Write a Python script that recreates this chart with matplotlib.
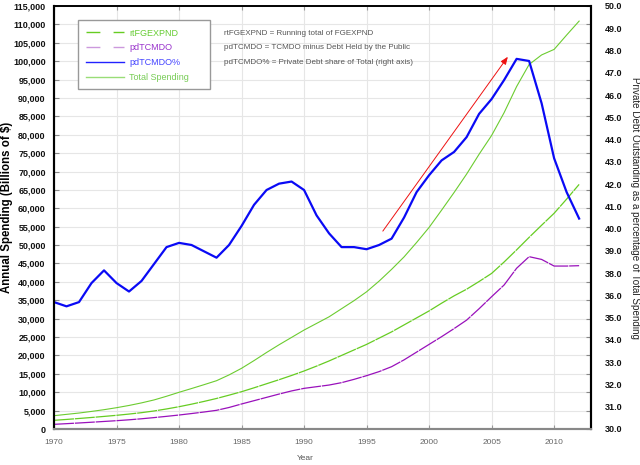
import matplotlib
matplotlib.use("Agg")
import matplotlib.pyplot as plt
from matplotlib.lines import Line2D
from matplotlib.patches import Rectangle
import numpy as np

plt.rcParams['font.family'] = ['Liberation Sans', 'DejaVu Sans']

years = list(range(1970, 2013))

total_spending = [3620, 3980, 4340, 4780, 5250, 5790, 6400, 7100, 7900, 8900,
                  9980, 11000, 12050, 13130, 14700, 16500, 18600, 20800, 22900, 24900,
                  26900, 28700, 30500, 32700, 34900, 37300, 40200, 43400, 46800, 50700,
                  54800, 59500, 64300, 69300, 74700, 79800, 86000, 93100, 99100, 101700,
                  103200, 107100, 110900]

rtFGEXPND = [2360, 2600, 2860, 3130, 3420, 3720, 4060, 4440, 4900, 5450,
             6060, 6750, 7500, 8300, 9200, 10140, 11200, 12300, 13400, 14550,
             15770, 17100, 18500, 20000, 21500, 23000, 24700, 26400, 28300, 30200,
             32100, 34200, 36200, 38000, 40100, 42300, 45400, 48700, 52100, 55400,
             58650, 62500, 66500]

pdTCMDO = [1270, 1450, 1640, 1840, 2050, 2260, 2500, 2780, 3100, 3440,
           3800, 4200, 4620, 5080, 5850, 6800, 7700, 8600, 9500, 10350,
           11050, 11500, 11950, 12600, 13500, 14500, 15600, 16940, 18800, 20900,
           23000, 25100, 27300, 29600, 32700, 35970, 39150, 43700, 46850, 46100,
           44300, 44300, 44400]

pdTCMDO_pct = [36.0, 35.8, 36.0, 36.9, 37.5, 36.9, 36.5, 37.0, 37.8, 38.6,
               38.8, 38.7, 38.4, 38.1, 38.7, 39.6, 40.6, 41.3, 41.6, 41.7,
               41.3, 40.1, 39.25, 38.6, 38.6, 38.5, 38.7, 39.0, 40.0, 41.2,
               42.0, 42.7, 43.1, 43.8, 44.9, 45.6, 46.5, 47.5, 47.4, 45.4,
               42.8, 41.2, 39.95]

x_ticks = list(range(1970, 2011, 5))
left_ticks = list(range(0, 115001, 5000))
left_tick_labels = [f"{v:,}" for v in left_ticks]
right_tick_labels = ["30.0", "31.0", "32.0", "33.0", "34.0", "35.0", "36.0", "38.0",
                     "39.0", "40.0", "41.0", "42.0", "43.0", "44.0", "45.0", "46.0",
                     "47.0", "48.0", "49.0", "50.0"]

legend_labels = ["rtFGEXPND", "pdTCMDO", "pdTCMDO%", "Total Spending"]
notes = ["rtFGEXPND = Running total of FGEXPND",
         "pdTCMDO = TCMDO minus Debt Held by the Public",
         "pdTCMDO% = Private Debt share of Total (right axis)"]

W, H = 640, 465
fig = plt.figure(figsize=(6.4, 4.65), dpi=100)
ax = fig.add_axes([54 / W, 1 - 429 / H, (591 - 54) / W, (429 - 6) / H])
ax2 = ax.twinx()

GREEN = '#66CC22'
ax.plot(years, total_spending, color='#6CCC30', lw=0.8)
ax.plot(years, rtFGEXPND, color=GREEN, lw=0.9, dashes=(16, 0.7))
ax.plot(years, pdTCMDO, color='#9911BB', lw=0.9, dashes=(16, 0.7))
ax2.plot(years, pdTCMDO_pct, color='#0A0AF5', lw=1.6)

ax.annotate('', xy=(2006.3, 101200), xytext=(1996.3, 53800),
            arrowprops=dict(arrowstyle='-|>,head_length=0.45,head_width=0.18',
                            color='#EE1111', lw=0.7, shrinkA=0, shrinkB=0))

ax.set_xlim(1970, 2012.95)
ax.set_ylim(0, 115000)
ax2.set_ylim(30, 50)

ax.set_xticks(x_ticks)
ax.set_xticklabels([str(t) for t in x_ticks])
ax.set_yticks(left_ticks)
ax.set_yticklabels(left_tick_labels, fontweight='bold')
ax.tick_params(axis='x', direction='in', length=3, color='#999999', top=True,
               labelsize=6, labelcolor='#666666', pad=7)
ax.tick_params(axis='y', direction='in', length=3.5, color='#888888', right=True,
               labelsize=6.5, labelcolor='#111111', pad=6)

ax2.set_yticks(np.linspace(30, 50, len(right_tick_labels)))
ax2.set_yticklabels(right_tick_labels, fontweight='bold')
ax2.tick_params(axis='y', length=0, labelsize=6.5, labelcolor='#111111', pad=10)

ax.grid(True, color='#e6e6e6', lw=0.8)
ax.set_axisbelow(True)

for a in (ax, ax2):
    a.spines['top'].set_color('black')
    a.spines['top'].set_linewidth(1.2)
    a.spines['left'].set_color('black')
    a.spines['left'].set_linewidth(1.5)
    a.spines['right'].set_color('black')
    a.spines['right'].set_linewidth(1.5)
    a.spines['bottom'].set_color('#888888')
    a.spines['bottom'].set_linewidth(1.5)

fig.text(7 / W, 1 - 207 / H, "Annual Spending (Billions of $)", rotation=90,
         ha='center', va='center', fontsize=8.3, fontweight='bold')
fig.text(635 / W, 1 - 208 / H,
         "Private Debt Outstanding as a percentage of Total Spending",
         rotation=270, ha='center', va='center', fontsize=7.1, color='#222222')
fig.text(305 / W, 1 - 458 / H, "Year", ha='center', va='center',
         fontsize=6, color='#555555')

# legend frame
fig.patches.append(Rectangle((78 / W, 1 - 89 / H), 132 / W, 69 / H,
                             transform=fig.transFigure, facecolor='white',
                             edgecolor='#999999', lw=1.0, zorder=1))
handles = [Line2D([], [], color=GREEN, lw=1.0, dashes=(10, 9.5)),
           Line2D([], [], color='#CC99DD', lw=1.0, dashes=(10, 9.5)),
           Line2D([], [], color='#2222FF', lw=1.0),
           Line2D([], [], color='#99DD77', lw=1.0)]
fig.legend(handles, legend_labels, loc='upper left',
           bbox_to_anchor=(86 / W, 1 - 28.5 / H), frameon=False, fontsize=6.5,
           handlelength=4.2, handletextpad=0.6, labelspacing=0.65,
           borderpad=0, borderaxespad=0,
           labelcolor=['#66CC33', '#9933CC', '#4444FF', '#77CC55'])

for i, note in enumerate(notes):
    fig.text(224 / W, 1 - (33.3 + 14.4 * i) / H, note, ha='left', va='center',
             fontsize=5.8, color='#555555')

fig.savefig("out.png", dpi=100)
